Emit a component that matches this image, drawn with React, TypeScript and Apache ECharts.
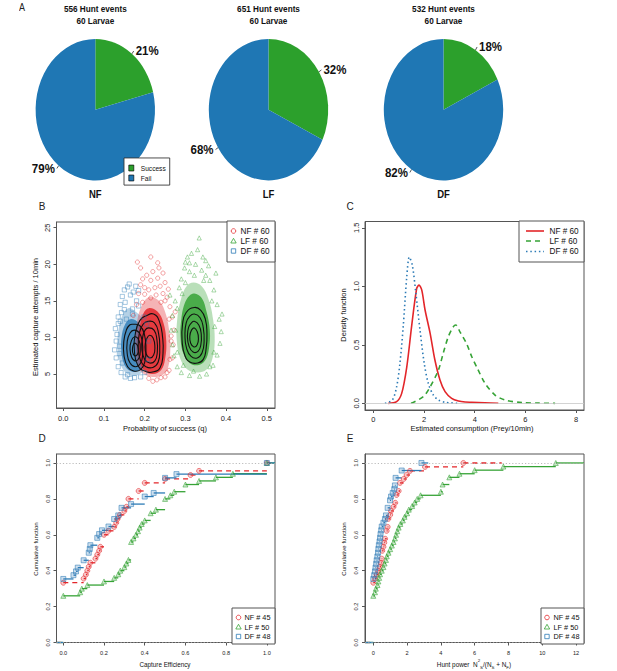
import React, { useEffect, useRef } from "react";
import * as echarts from "echarts";

const FONT = "'Liberation Sans', Arial, Helvetica, sans-serif";
const RED = "#e3262a";
const GREEN = "#36a336";
const BLUE = "#2c7bb6";
const PIE_GREEN = "#2ca02c";
const PIE_BLUE = "#1f77b4";
const BOX = "#555555";

// ---------------- Panel A : hunt outcome pies ----------------
const pieGroups = ["NF", "LF", "DF"];
const pieHuntEvents = [556, 651, 532];
const pieLarvae = [60, 60, 60];
const pieCategories = ["Success", "Fail"];
const pieSuccessPct = [21, 32, 18];
const pieFailPct = [79, 68, 82];

// ---------------- Panel B : q vs capture attempts ----------------
// dense parts of each posterior sample cloud (outer and inner outline)
const dfCloudOuter = [[0.16, 14.0], [0.178, 13.5], [0.195, 12.5], [0.205, 10.5], [0.207, 8], [0.2, 5.8], [0.185, 4.9], [0.165, 4.8], [0.148, 5.5], [0.137, 7.0], [0.133, 9.0], [0.137, 11.5], [0.147, 13.2]];
const dfCloudInner = [[0.165, 12.5], [0.185, 12.0], [0.198, 10.5], [0.202, 8.5], [0.197, 6.3], [0.183, 5.4], [0.165, 5.4], [0.15, 6.3], [0.143, 8.0], [0.143, 10.0], [0.152, 11.8]];
const nfCloudOuter = [[0.21, 15.5], [0.235, 15.0], [0.25, 13.5], [0.26, 11], [0.263, 8.5], [0.258, 6.0], [0.245, 4.9], [0.22, 4.6], [0.198, 5.0], [0.185, 6.0], [0.178, 8.5], [0.18, 11.5], [0.19, 14.0]];
const nfCloudInner = [[0.21, 14.0], [0.232, 13.5], [0.246, 12.0], [0.253, 9.5], [0.25, 7.0], [0.24, 5.5], [0.22, 5.0], [0.2, 5.4], [0.188, 6.8], [0.184, 9.0], [0.188, 11.5], [0.197, 13.3]];
const lfCloudOuter = [[0.32, 17.5], [0.34, 17.0], [0.357, 15.2], [0.368, 12.5], [0.372, 9.5], [0.366, 7.0], [0.352, 5.6], [0.33, 5.2], [0.305, 5.6], [0.288, 7.0], [0.279, 9.5], [0.28, 12.5], [0.289, 15.2], [0.303, 17.0]];
const lfCloudInner = [[0.322, 16.0], [0.34, 15.4], [0.352, 13.5], [0.36, 11.0], [0.358, 8.5], [0.348, 6.8], [0.33, 6.2], [0.31, 6.5], [0.295, 7.8], [0.288, 10.0], [0.29, 12.5], [0.298, 14.6], [0.31, 15.7]];
// sparse samples around the clouds
const dfHalo = [[0.13, 9.5], [0.128, 11.2], [0.135, 12.8], [0.14, 14.5], [0.145, 15.6], [0.15, 16.5], [0.158, 16.9], [0.165, 15.8], [0.172, 16.2], [0.18, 15.0], [0.185, 14.3], [0.152, 14.8], [0.143, 13.4], [0.132, 10.4], [0.126, 8.3], [0.13, 7.2], [0.135, 6.0], [0.142, 5.2], [0.152, 4.6], [0.165, 4.4], [0.175, 4.5], [0.19, 4.6], [0.162, 17.3], [0.17, 13.9], [0.155, 12.5], [0.138, 8.8],
  [0.14, 12.2], [0.145, 6.5], [0.138, 7.8], [0.15, 13.8], [0.198, 12.8], [0.205, 11.8], [0.21, 9.5], [0.208, 7.0], [0.2, 5.2], [0.17, 13.2], [0.158, 4.9], [0.135, 11.9], [0.185, 16.4], [0.178, 17.0]];
const nfHalo = [[0.185, 16.0], [0.19, 17.2], [0.195, 18.0], [0.182, 20.3], [0.21, 16.5], [0.215, 17.8], [0.22, 19.0], [0.225, 16.8], [0.232, 18.1], [0.238, 17.0], [0.232, 20.2], [0.245, 16.0], [0.25, 17.5], [0.255, 15.5], [0.262, 14.2], [0.268, 12.8], [0.272, 11.0], [0.27, 9.0], [0.268, 7.2], [0.26, 5.5], [0.25, 4.6], [0.23, 4.2], [0.21, 4.4], [0.2, 16.8], [0.205, 18.5], [0.228, 15.8], [0.258, 16.6], [0.275, 13.5], [0.265, 10.2], [0.18, 14.5], [0.172, 13.0],
  [0.26, 12.5], [0.262, 7.0], [0.255, 5.2], [0.24, 14.8], [0.215, 15.4], [0.195, 14.8], [0.2, 15.9], [0.25, 15.0], [0.265, 9.5], [0.24, 4.5], [0.22, 4.0], [0.215, 21.0], [0.245, 18.8], [0.19, 19.5], [0.235, 19.5]];
const lfHalo = [[0.334, 23.6], [0.315, 21.5], [0.305, 21.0], [0.325, 20.0], [0.298, 19.5], [0.31, 19.0], [0.34, 19.2], [0.35, 18.5], [0.29, 18.0], [0.36, 17.8], [0.285, 16.8], [0.37, 16.5], [0.275, 15.0], [0.378, 14.5], [0.268, 13.0], [0.383, 12.5], [0.265, 11.0], [0.388, 10.8], [0.268, 9.0], [0.385, 9.2], [0.272, 7.5], [0.378, 7.6], [0.28, 6.0], [0.368, 6.2], [0.29, 5.2], [0.31, 4.8], [0.335, 4.7], [0.352, 5.0], [0.3, 20.3], [0.343, 21.0], [0.357, 19.8], [0.262, 15.8], [0.39, 13.2],
  [0.3, 17.5], [0.345, 17.8], [0.365, 15.0], [0.372, 11.5], [0.37, 8.0], [0.36, 6.0], [0.32, 5.4], [0.295, 6.2], [0.28, 8.0], [0.276, 11.0], [0.28, 14.0], [0.292, 16.0], [0.322, 18.5], [0.33, 22.0], [0.31, 20.2], [0.35, 20.5], [0.375, 18.8]];
// density contours (black)
const dfContours = [
  [[0.172, 11.8], [0.188, 11.6], [0.199, 10.5], [0.203, 8.5], [0.2, 6.6], [0.19, 5.6], [0.173, 5.4], [0.158, 6.0], [0.149, 7.6], [0.149, 9.6], [0.155, 11.0], [0.163, 11.7]],
  [[0.174, 11.0], [0.187, 10.6], [0.194, 9.4], [0.195, 7.8], [0.19, 6.5], [0.177, 6.0], [0.164, 6.5], [0.157, 7.8], [0.157, 9.4], [0.164, 10.6]],
  [[0.176, 10.1], [0.186, 9.6], [0.189, 8.4], [0.186, 7.2], [0.177, 6.8], [0.168, 7.3], [0.164, 8.4], [0.167, 9.5]],
  [[0.177, 9.2], [0.183, 8.8], [0.184, 8.0], [0.179, 7.5], [0.172, 7.7], [0.17, 8.5], [0.173, 9.1]],
];
const nfContours = [
  [[0.205, 13.0], [0.222, 13.2], [0.236, 12.2], [0.244, 10.0], [0.245, 7.8], [0.238, 5.9], [0.222, 5.3], [0.2, 5.4], [0.183, 6.2], [0.175, 8.0], [0.177, 10.5], [0.188, 12.3]],
  [[0.208, 12.2], [0.224, 12.0], [0.234, 10.6], [0.237, 8.5], [0.233, 6.6], [0.22, 5.9], [0.203, 6.0], [0.19, 6.8], [0.184, 8.6], [0.187, 10.6], [0.196, 11.8]],
  [[0.21, 11.3], [0.223, 11.0], [0.23, 9.7], [0.231, 8.0], [0.225, 6.8], [0.212, 6.5], [0.2, 7.0], [0.193, 8.4], [0.195, 10.0], [0.201, 11.0]],
  [[0.212, 10.3], [0.221, 9.9], [0.225, 8.7], [0.222, 7.6], [0.213, 7.2], [0.204, 7.7], [0.201, 8.8], [0.205, 9.8]],
];
const lfContours = [
  [[0.322, 14.1], [0.338, 13.7], [0.349, 12.5], [0.353, 10.5], [0.351, 8.5], [0.344, 7.0], [0.33, 6.5], [0.312, 6.6], [0.299, 7.5], [0.292, 9.5], [0.293, 11.8], [0.302, 13.4]],
  [[0.322, 13.2], [0.336, 12.7], [0.344, 11.3], [0.346, 9.5], [0.341, 7.9], [0.329, 7.2], [0.314, 7.4], [0.303, 8.5], [0.299, 10.3], [0.302, 12.0], [0.311, 12.9]],
  [[0.322, 12.2], [0.333, 11.7], [0.339, 10.4], [0.338, 9.0], [0.331, 8.1], [0.319, 8.0], [0.309, 8.8], [0.305, 10.2], [0.308, 11.4], [0.315, 12.0]],
  [[0.322, 11.3], [0.329, 10.8], [0.332, 9.9], [0.329, 9.0], [0.321, 8.7], [0.313, 9.2], [0.311, 10.2], [0.315, 11.0]],
];
const bLegend = ["NF # 60", "LF # 60", "DF # 60"];

// ---------------- Panel C : consumption density ----------------
const nfDensity = [[0.59, 0], [0.92, 0.014], [1.12, 0.085], [1.32, 0.31], [1.51, 0.655], [1.71, 0.98], [1.8, 1.01], [1.91, 0.97], [2.04, 0.8], [2.24, 0.6], [2.43, 0.37], [2.63, 0.2], [2.83, 0.1], [3.09, 0.043], [3.36, 0.02], [3.62, 0.011], [3.88, 0.009], [4.4, 0.005], [4.93, 0.001]];
const lfDensity = [[1.49, 0], [1.97, 0.057], [2.24, 0.14], [2.57, 0.285], [2.76, 0.43], [2.96, 0.57], [3.16, 0.655], [3.25, 0.67], [3.42, 0.61], [3.68, 0.51], [3.88, 0.4], [4.08, 0.31], [4.41, 0.17], [4.8, 0.071], [5.2, 0.028], [5.86, 0.006], [6.5, 0.002], [7.17, 0]];
const dfDensity = [[0.46, 0], [0.75, 0.028], [0.92, 0.14], [1.05, 0.34], [1.18, 0.655], [1.32, 1.08], [1.42, 1.25], [1.54, 1.18], [1.68, 0.94], [1.84, 0.63], [2.01, 0.34], [2.17, 0.17], [2.37, 0.07], [2.57, 0.028], [2.83, 0.009], [3.36, 0]];

// ---------------- Panel D : ECDF of capture efficiency ----------------
const nfEffX = [0, 0.1, 0.111, 0.118, 0.125, 0.133, 0.158, 0.167, 0.176, 0.182, 0.2, 0.222, 0.25, 0.26, 0.267, 0.278, 0.3, 0.31, 0.32, 0.37, 0.4, 0.5, 0.625, 0.667, 1.0];
const nfEffY = [0.333, 0.356, 0.378, 0.4, 0.422, 0.444, 0.467, 0.489, 0.511, 0.533, 0.6, 0.622, 0.644, 0.667, 0.689, 0.711, 0.733, 0.756, 0.8, 0.844, 0.889, 0.911, 0.933, 0.956, 1.0];
const lfEffX = [0, 0.083, 0.091, 0.118, 0.2, 0.25, 0.27, 0.28, 0.3, 0.31, 0.32, 0.333, 0.345, 0.357, 0.367, 0.375, 0.385, 0.4, 0.429, 0.455, 0.5, 0.526, 0.545, 0.6, 0.667, 0.75, 0.833, 1.0];
const lfEffY = [0.26, 0.28, 0.3, 0.32, 0.34, 0.36, 0.38, 0.4, 0.42, 0.44, 0.46, 0.56, 0.58, 0.6, 0.62, 0.64, 0.66, 0.68, 0.72, 0.74, 0.8, 0.82, 0.84, 0.88, 0.9, 0.92, 0.94, 1.0];
const dfEffX = [0, 0.05, 0.0625, 0.071, 0.1, 0.125, 0.13, 0.133, 0.167, 0.176, 0.19, 0.222, 0.25, 0.27, 0.286, 0.333, 0.4, 0.444, 0.5, 0.556, 1.0];
const dfEffY = [0.354, 0.375, 0.396, 0.417, 0.458, 0.5, 0.521, 0.542, 0.583, 0.604, 0.625, 0.646, 0.688, 0.708, 0.75, 0.771, 0.813, 0.833, 0.917, 0.938, 1.0];
const dLegend = ["NF # 45", "LF # 50", "DF # 48"];

// ---------------- Panel E : ECDF of hunt power ----------------
const nfPowX = [0, 0.1, 0.2, 0.3, 0.38, 0.45, 0.5, 0.53, 0.6, 0.65, 0.7, 0.79, 0.85, 0.89, 1.0, 1.05, 1.2, 1.3, 1.38, 1.5, 1.58, 1.8, 1.97, 2.17, 3.06, 5.33];
const nfPowY = [0.333, 0.356, 0.378, 0.4, 0.422, 0.444, 0.467, 0.511, 0.533, 0.556, 0.578, 0.622, 0.644, 0.689, 0.711, 0.733, 0.756, 0.778, 0.822, 0.844, 0.889, 0.911, 0.933, 0.956, 0.978, 1.0];
const lfPowX = [0, 0.1, 0.15, 0.25, 0.3, 0.35, 0.4, 0.5, 0.6, 0.67, 0.75, 0.8, 0.9, 1.0, 1.1, 1.2, 1.28, 1.35, 1.42, 1.5, 1.6, 1.75, 1.85, 2.0, 2.1, 2.3, 2.45, 2.6, 2.8, 4.0, 4.1, 4.5, 5.1, 6.0, 7.7, 10.8];
const lfPowY = [0.26, 0.28, 0.3, 0.32, 0.34, 0.36, 0.38, 0.4, 0.42, 0.44, 0.46, 0.48, 0.5, 0.52, 0.54, 0.56, 0.58, 0.6, 0.62, 0.64, 0.66, 0.68, 0.7, 0.72, 0.74, 0.76, 0.78, 0.8, 0.82, 0.84, 0.88, 0.92, 0.94, 0.96, 0.98, 1.0];
const dfPowX = [0, 0.05, 0.1, 0.13, 0.17, 0.2, 0.24, 0.28, 0.3, 0.33, 0.37, 0.4, 0.43, 0.47, 0.5, 0.6, 0.69, 0.75, 0.85, 0.99, 1.05, 1.15, 1.24, 1.28, 1.32, 1.68, 2.85];
const dfPowY = [0.354, 0.375, 0.396, 0.417, 0.438, 0.458, 0.479, 0.5, 0.521, 0.542, 0.563, 0.583, 0.604, 0.625, 0.646, 0.667, 0.688, 0.708, 0.75, 0.792, 0.813, 0.833, 0.854, 0.875, 0.917, 0.958, 1.0];
// right end of the last ECDF step (as drawn)
const powLastEnd = { nf: 7.6, lf: 12.47, df: 3.25 };
const eLegend = ["NF # 45", "LF # 50", "DF # 48"];

// tick values
const bXTicks = [0, 0.1, 0.2, 0.3, 0.4, 0.5];
const bYTicks = [5, 10, 15, 20, 25];
const cXTicks = [0, 2, 4, 6, 8];
const cYTicks = [0, 0.5, 1.0, 1.5];
const dXTicks = [0, 0.2, 0.4, 0.6, 0.8, 1.0];
const cdfYTicks = [0, 0.2, 0.4, 0.6, 0.8, 1.0];
const eXTicks = [0, 2, 4, 6, 8, 10, 12];

// ---------------- layout ----------------
const PIE_SY = 1.185; // panel A is stretched vertically in the reference
const PIE_H = 170;
const PIE_CX = [95.3, 268.5, 443.5];
const PIE_CY = 92.6;
const PIE_R = 59.7;

const AX = {
  b: { x: [-0.0167, 0.5202], y: [0.352, 25.78] },
  c: { x: [-0.327, 8.31], y: [-0.057, 1.554] },
  d: { x: [-0.0334, 1.04], y: [0, 1.05] },
  e: { x: [-0.491, 12.47], y: [0, 1.05] },
};

function rgba(hex: string, a: number) {
  const n = parseInt(hex.slice(1), 16);
  return `rgba(${(n >> 16) & 255},${(n >> 8) & 255},${n & 255},${a})`;
}

function txt(x: number, y: number, text: string, fs: number, opts: any = {}) {
  const align = opts.align || "center";
  return {
    type: "text",
    x,
    y,
    rotation: opts.rotation || 0,
    z: 120,
    silent: true,
    style: {
      text,
      fontSize: fs,
      fontFamily: FONT,
      fontWeight: opts.bold ? "bold" : "normal",
      fill: opts.color || "#111",
      align,
      verticalAlign: "middle",
      textAlign: align,
      textVerticalAlign: "middle",
      lineHeight: opts.lineHeight,
      rich: opts.rich,
    },
  };
}

function valueAxis(gi: number, range: number[], ticks: number[], dec: number, fs: number, margin: number, rotate = 0) {
  return {
    type: "value",
    gridIndex: gi,
    min: range[0],
    max: range[1],
    axisLine: { show: true, onZero: false, lineStyle: { color: BOX, width: 1 } },
    axisTick: { show: true, length: 3, customValues: ticks, lineStyle: { color: BOX, width: 1 } },
    axisLabel: {
      show: true,
      customValues: ticks,
      formatter: (v: number) => Number(v).toFixed(dec),
      fontSize: fs,
      fontFamily: FONT,
      color: "#222",
      margin,
      rotate,
    },
    splitLine: { show: false },
  };
}

function polySeries(gi: number, polys: number[][][], fill: string, stroke: string, lw: number, smooth: number) {
  return {
    type: "custom",
    xAxisIndex: gi,
    yAxisIndex: gi,
    silent: true,
    data: polys.map((p, i) => [p[0][0], p[0][1], i]),
    renderItem: (params: any, api: any) => {
      const poly = polys[params.dataIndex];
      const pts = poly.map((pt) => api.coord(pt));
      return {
        type: "polygon",
        shape: { points: pts, smooth },
        style: { fill, stroke, lineWidth: lw },
      };
    },
  };
}

function haloSeries(pts: number[][], color: string, symbol: string) {
  return {
    type: "scatter",
    xAxisIndex: 0,
    yAxisIndex: 0,
    silent: true,
    symbol,
    symbolSize: 4.2,
    data: pts,
    itemStyle: { color: "rgba(0,0,0,0)", borderColor: color, borderWidth: 0.6, opacity: 0.7 },
  };
}

function ecdfSeries(gi: number, xs: number[], ys: number[], xmin: number, xEnd: number, color: string, dash: any, symbol: string) {
  const segs: number[][] = [[xmin, xs[0], 0]];
  xs.forEach((x, i) => segs.push([x, i + 1 < xs.length ? xs[i + 1] : xEnd, ys[i]]));
  return [
    {
      type: "custom",
      xAxisIndex: gi,
      yAxisIndex: gi,
      silent: true,
      data: segs,
      encode: { x: [0, 1], y: 2 },
      renderItem: (params: any, api: any) => {
        const a = api.coord([api.value(0), api.value(2)]);
        const b = api.coord([api.value(1), api.value(2)]);
        return {
          type: "line",
          shape: { x1: a[0], y1: a[1], x2: b[0], y2: b[1] },
          style: { stroke: color, lineWidth: 1.3, lineDash: dash, fill: null },
        };
      },
    },
    {
      type: "scatter",
      xAxisIndex: gi,
      yAxisIndex: gi,
      silent: true,
      symbol,
      symbolSize: 5,
      data: xs.map((x, i) => [x, ys[i]]),
      itemStyle: { color: rgba(color, 0.3), borderColor: color, borderWidth: 0.7 },
    },
  ];
}

function legendGraphic(box: number[], items: any[], symX: number, textX: number, ys: number[], fs: number) {
  const els: any[] = [
    {
      type: "rect",
      z: 100,
      silent: true,
      shape: { x: box[0], y: box[1], width: box[2] - box[0], height: box[3] - box[1] },
      style: { fill: "#fff", stroke: BOX, lineWidth: 1 },
    },
  ];
  items.forEach((it, i) => {
    const y = ys[i];
    const st = { fill: "none", stroke: it.color, lineWidth: 0.8 };
    if (it.kind === "circle") els.push({ type: "circle", z: 101, silent: true, shape: { cx: symX, cy: y, r: 2.3 }, style: st });
    else if (it.kind === "triangle")
      els.push({ type: "polygon", z: 101, silent: true, shape: { points: [[symX, y - 2.7], [symX + 2.7, y + 2], [symX - 2.7, y + 2]] }, style: st });
    else if (it.kind === "rect")
      els.push({ type: "rect", z: 101, silent: true, shape: { x: symX - 2.2, y: y - 2.2, width: 4.4, height: 4.4 }, style: st });
    else
      els.push({
        type: "line",
        z: 101,
        silent: true,
        shape: { x1: symX, y1: y, x2: symX + 18, y2: y },
        style: { stroke: it.color, lineWidth: 1.6, lineDash: it.dash },
      });
    els.push(txt(textX, y, it.label, fs, { align: "left", color: "#111" }));
  });
  return els;
}

function buildPieOption() {
  const graphic: any[] = [txt(22, 5.8, "A", 9, { color: "#222" })];
  pieGroups.forEach((g, i) => {
    graphic.push(txt(PIE_CX[i], 7.6, `${pieHuntEvents[i]} Hunt events`, 8.2, { bold: true, color: "#111" }));
    graphic.push(txt(PIE_CX[i], 17.4, `${pieLarvae[i]} Larvae`, 8.2, { bold: true, color: "#111" }));
    graphic.push(txt(PIE_CX[i], 163.7, g, 9.5, { bold: true, color: "#111" }));
  });
  return {
    animation: false,
    legend: {
      left: 124,
      top: 133.3,
      orient: "vertical",
      data: pieCategories,
      icon: "rect",
      itemWidth: 5,
      itemHeight: 5,
      itemGap: 0.4,
      padding: [4.5, 4, 2, 4.5],
      borderColor: "#333",
      borderWidth: 0.8,
      backgroundColor: "#fff",
      selectedMode: false,
      itemStyle: { borderColor: "#000", borderWidth: 0.6 },
      textStyle: { fontSize: 6.6, fontFamily: FONT, color: "#111", lineHeight: 8, padding: [0, 0, 0, 2] },
    },
    series: pieGroups.map((g, i) => ({
      type: "pie",
      name: g,
      center: [PIE_CX[i], PIE_CY],
      radius: PIE_R,
      startAngle: 90,
      clockwise: true,
      avoidLabelOverlap: false,
      silent: true,
      emphasis: { disabled: true },
      data: [
        { name: pieCategories[0], value: pieSuccessPct[i], itemStyle: { color: PIE_GREEN } },
        { name: pieCategories[1], value: pieFailPct[i], itemStyle: { color: PIE_BLUE } },
      ],
      itemStyle: { borderWidth: 0 },
      label: {
        show: true,
        position: "outside",
        formatter: "{c}%",
        fontSize: 11.5,
        fontWeight: "bold",
        fontFamily: FONT,
        color: "#111",
        distanceToLabelLine: 2,
      },
      labelLine: { show: true, length: 3, length2: 0, lineStyle: { color: "#222", width: 0.7 } },
    })),
    graphic,
  };
}

function buildMainOption() {
  const zeroLineC = {
    silent: true,
    symbol: "none",
    label: { show: false },
    lineStyle: { color: "#c8c8c8", width: 0.8, type: "solid" },
    data: [{ yAxis: 0 }],
  };
  const cdfLines = {
    silent: true,
    symbol: "none",
    label: { show: false },
    lineStyle: { color: "#aaaaaa", width: 0.8, type: [1.2, 2] },
    data: [{ yAxis: 0 }, { yAxis: 1 }],
  };

  const series: any[] = [
    // B
    polySeries(0, [dfCloudOuter], rgba(BLUE, 0.35), "none", 0, 0.4),
    polySeries(0, [dfCloudInner], rgba(BLUE, 0.8), "none", 0, 0.4),
    haloSeries(dfHalo, BLUE, "rect"),
    polySeries(0, [nfCloudOuter], rgba(RED, 0.35), "none", 0, 0.4),
    polySeries(0, [nfCloudInner], rgba(RED, 0.85), "none", 0, 0.4),
    haloSeries(nfHalo, RED, "circle"),
    polySeries(0, [lfCloudOuter], rgba(GREEN, 0.35), "none", 0, 0.4),
    polySeries(0, [lfCloudInner], rgba(GREEN, 0.85), "none", 0, 0.4),
    haloSeries(lfHalo, GREEN, "triangle"),
    polySeries(0, dfContours, "none", "#111", 1.1, 0.5),
    polySeries(0, nfContours, "none", "#111", 1.1, 0.5),
    polySeries(0, lfContours, "none", "#111", 1.1, 0.5),
    // C
    {
      type: "line", xAxisIndex: 1, yAxisIndex: 1, silent: true, data: nfDensity, smooth: 0.3, symbol: "none",
      lineStyle: { color: RED, width: 1.6 }, markLine: zeroLineC, z: 3,
    },
    {
      type: "line", xAxisIndex: 1, yAxisIndex: 1, silent: true, data: lfDensity, smooth: 0.3, symbol: "none",
      lineStyle: { color: GREEN, width: 1.6, type: [5, 4] }, z: 3,
    },
    {
      type: "line", xAxisIndex: 1, yAxisIndex: 1, silent: true, data: dfDensity, smooth: 0.3, symbol: "none",
      lineStyle: { color: BLUE, width: 1.6, type: [1.5, 2.8] }, z: 3,
    },
    // D & E reference lines
    { type: "line", xAxisIndex: 2, yAxisIndex: 2, silent: true, data: [], markLine: cdfLines },
    { type: "line", xAxisIndex: 3, yAxisIndex: 3, silent: true, data: [], markLine: cdfLines },
    // D
    ...ecdfSeries(2, nfEffX, nfEffY, AX.d.x[0], AX.d.x[1], RED, [5, 4], "circle"),
    ...ecdfSeries(2, lfEffX, lfEffY, AX.d.x[0], AX.d.x[1], GREEN, null, "triangle"),
    ...ecdfSeries(2, dfEffX, dfEffY, AX.d.x[0], AX.d.x[1], BLUE, null, "rect"),
    // E
    ...ecdfSeries(3, nfPowX, nfPowY, AX.e.x[0], powLastEnd.nf, RED, [5, 4], "circle"),
    ...ecdfSeries(3, lfPowX, lfPowY, AX.e.x[0], powLastEnd.lf, GREEN, null, "triangle"),
    ...ecdfSeries(3, dfPowX, dfPowY, AX.e.x[0], powLastEnd.df, BLUE, null, "rect"),
  ];

  const huntRich = {
    a: { fontSize: 6.4, fontFamily: FONT, fill: "#111", color: "#111", lineHeight: 11 },
    sup: { fontSize: 4.4, fontFamily: FONT, fill: "#111", color: "#111", lineHeight: 5, verticalAlign: "top" },
    sub: { fontSize: 4.4, fontFamily: FONT, fill: "#111", color: "#111", lineHeight: 5, verticalAlign: "bottom" },
  };

  const graphic: any[] = [
    txt(42, 206, "B", 10, { color: "#222" }),
    txt(350, 206, "C", 10, { color: "#222" }),
    txt(42, 438, "D", 10, { color: "#222" }),
    txt(350, 438, "E", 10, { color: "#222" }),
    txt(165, 428, "Probability of success (q)", 7.5),
    txt(35, 317, "Estimated capture attempts / 10min", 7.5, { rotation: Math.PI / 2 }),
    txt(472, 428, "Estimated consumption (Prey/10min)", 7.5),
    txt(343, 315, "Density function", 7.5, { rotation: Math.PI / 2 }),
    txt(165, 664, "Capture Efficiency", 6.3),
    txt(35, 549, "Cumulative function", 6.1, { rotation: Math.PI / 2 }),
    txt(474, 664, "{a|Hunt power  N}{sup|2}{sub|S}{a|/(N}{sub|S}{a| + N}{sub|F}{a|)}", 6.4, { rich: huntRich }),
    txt(343, 549, "Cumulative function", 6.1, { rotation: Math.PI / 2 }),
    ...legendGraphic(
      [227, 221, 275, 262],
      [
        { label: bLegend[0], color: RED, kind: "circle" },
        { label: bLegend[1], color: GREEN, kind: "triangle" },
        { label: bLegend[2], color: BLUE, kind: "rect" },
      ],
      233.5, 240.5, [231, 241, 251], 8.2
    ),
    ...legendGraphic(
      [519, 221, 584, 262],
      [
        { label: bLegend[0], color: RED, kind: "line", dash: null },
        { label: bLegend[1], color: GREEN, kind: "line", dash: [5, 4] },
        { label: bLegend[2], color: BLUE, kind: "line", dash: [1.5, 2.8] },
      ],
      526, 549.5, [231, 241, 251.5], 8.2
    ),
    ...legendGraphic(
      [232, 608, 275, 644],
      [
        { label: dLegend[0], color: RED, kind: "circle" },
        { label: dLegend[1], color: GREEN, kind: "triangle" },
        { label: dLegend[2], color: BLUE, kind: "rect" },
      ],
      238.5, 244.5, [617.5, 627, 636.5], 7.3
    ),
    ...legendGraphic(
      [541, 608, 584, 644],
      [
        { label: eLegend[0], color: RED, kind: "circle" },
        { label: eLegend[1], color: GREEN, kind: "triangle" },
        { label: eLegend[2], color: BLUE, kind: "rect" },
      ],
      547, 553.5, [617.5, 627, 636.5], 7.3
    ),
  ];

  const gridStyle = { show: true, borderColor: BOX, borderWidth: 1, backgroundColor: "transparent", containLabel: false };
  return {
    animation: false,
    grid: [
      { ...gridStyle, left: 56.5, top: 222, width: 218.5, height: 186 },
      { ...gridStyle, left: 365, top: 221.5, width: 219, height: 188.5 },
      { ...gridStyle, left: 56.5, top: 454, width: 218.5, height: 188.5 },
      { ...gridStyle, left: 365, top: 454, width: 219, height: 188.5 },
    ],
    xAxis: [
      valueAxis(0, AX.b.x, bXTicks, 1, 7.5, 6),
      valueAxis(1, AX.c.x, cXTicks, 0, 7.5, 5),
      valueAxis(2, AX.d.x, dXTicks, 1, 5.6, 7),
      valueAxis(3, AX.e.x, eXTicks, 0, 5.6, 7),
    ],
    yAxis: [
      valueAxis(0, AX.b.y, bYTicks, 0, 7.5, 5, 90),
      valueAxis(1, AX.c.y, cYTicks, 1, 7.5, 5, 90),
      valueAxis(2, AX.d.y, cdfYTicks, 1, 5.6, 6, 90),
      valueAxis(3, AX.e.y, cdfYTicks, 1, 5.6, 6, 90),
    ],
    series,
    graphic,
  };
}

export default function App() {
  const mainRef = useRef<HTMLDivElement>(null);
  const pieRef = useRef<HTMLDivElement>(null);
  useEffect(() => {
    const main = echarts.init(mainRef.current as HTMLDivElement, null, { renderer: "svg" });
    main.setOption(buildMainOption() as any);
    const pie = echarts.init(pieRef.current as HTMLDivElement, null, { renderer: "svg" });
    pie.setOption(buildPieOption() as any);
    return () => {
      main.dispose();
      pie.dispose();
    };
  }, []);
  return (
    <div style={{ position: "absolute", left: 0, top: 0, width: 617, height: 671, background: "#fff", overflow: "hidden" }}>
      <div ref={mainRef} style={{ position: "absolute", left: 0, top: 0, width: 617, height: 671 }} />
      <div
        ref={pieRef}
        style={{ position: "absolute", left: 0, top: 0, width: 617, height: PIE_H, transform: `scaleY(${PIE_SY})`, transformOrigin: "0 0" }}
      />
    </div>
  );
}
